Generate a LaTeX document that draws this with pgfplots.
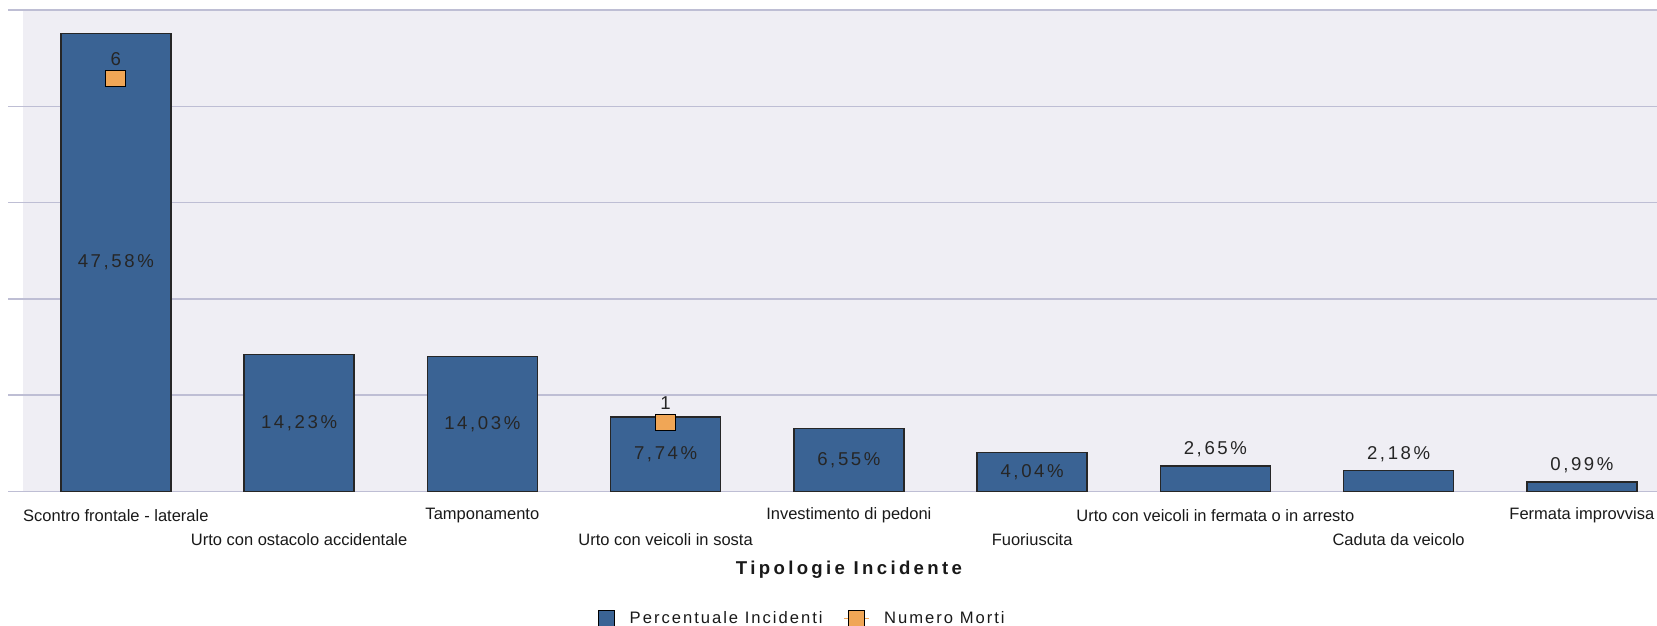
\documentclass[border=0pt]{standalone}
\usepackage{pgfplots}
\pgfplotsset{compat=1.18}
\usepackage{fontspec}
\setmainfont{Liberation Sans}
\newfontfamily\lsfont[LetterSpace=14]{Liberation Sans}
\newfontfamily\legfont[LetterSpace=12]{Liberation Sans}
\newfontfamily\titlefont[LetterSpace=18]{Liberation Sans}
\definecolor{barblue}{RGB}{58,99,148}
\definecolor{morti}{RGB}{240,166,86}
\definecolor{bgcol}{RGB}{239,238,244}
\definecolor{gridcol}{RGB}{190,190,212}
\pgfplotsset{/pgf/number format/assume math mode=true}
\begin{document}
\begin{tikzpicture}
\begin{axis}[
  name=ax,
  scale only axis,
  width=816.85pt, height=240.75pt,
  xmin=-0.505, xmax=8.41,
  ymin=0, ymax=50,
  ytick={0,10,20,30,40,50},
  yticklabels={},
  ymajorgrids,
  grid style={gridcol, line width=0.75pt},
  axis line style={draw=none},
  tick align=outside,
  ytick pos=left,
  major tick length=7.5pt,
  ytick style={gridcol, line width=0.75pt},
  xtick={0,1,2,3,4,5,6,7,8},
  xtick style={draw=none},
  xticklabels={Scontro frontale - laterale, Urto con ostacolo accidentale, Tamponamento, Urto con veicoli in sosta, Investimento di pedoni, Fuoriuscita, Urto con veicoli in fermata o in arresto, Caduta da veicolo, Fermata improvvisa},
  xticklabel style={font=\fontsize{8.25}{10}\selectfont, text=black!90, anchor=center, yshift={-4.4pt-mod(\ticknum,2)*12.2pt}},
  axis background/.style={fill=bgcol},
  xlabel={\titlefont\bfseries Tipologie Incidente},
  xlabel style={at={(axis description cs:0.5054,0)}, anchor=center, yshift=-39pt, font=\fontsize{9.3}{11}\selectfont, text=black!90},
  legend columns=2,
  legend style={draw=none, fill=none, at={(0.4775,-0.2642)}, anchor=center,
    font=\fontsize{8.3}{10}\selectfont\legfont, text=black!90,
    /tikz/every odd column/.append style={column sep=5.2pt},
    /tikz/every even column/.append style={column sep=8.5pt}},
]
\addplot[ybar, bar shift=0pt, bar width=0.6, fill=barblue, draw=black!85, line width=0.7pt,
  legend image code/.code={\draw[fill=barblue,draw=black,line width=0.6pt] (0pt,-4pt) rectangle (8pt,4pt);},
  nodes near coords={\lsfont\pgfmathprintnumber[fixed,fixed zerofill,precision=2,use comma]{\pgfplotspointmeta}\%},
  visualization depends on={y \as \rawy},
  every node near coord/.append style={font=\fontsize{9.3}{11}\selectfont, text=black!85, anchor=center, shift={(axis direction cs:0,-\rawy/2)}},
] coordinates {(0,47.58) (1,14.23) (2,14.03) (3,7.74) (4,6.55) (5,4.04)};
\addlegendentry{Percentuale Incidenti}
\addplot[ybar, bar shift=0pt, bar width=0.6, fill=barblue, draw=black!85, line width=0.7pt, forget plot,
  nodes near coords={\lsfont\pgfmathprintnumber[fixed,fixed zerofill,precision=2,use comma]{\pgfplotspointmeta}\%},
  every node near coord/.append style={font=\fontsize{9.3}{11}\selectfont, text=black!85, anchor=center, yshift=8.3pt},
] coordinates {(6,2.65) (7,2.18) (8,0.99)};
\addlegendimage{legend image code/.code={\draw[morti, line width=0.6pt] (0pt,0pt) -- (12.5pt,0pt); \draw[fill=morti, draw=black, line width=0.6pt] (2.25pt,-4pt) rectangle (10.25pt,4pt);}}
\addlegendentry{Numero Morti}
\end{axis}
\begin{axis}[
  scale only axis,
  width=816.85pt, height=240.75pt,
  xmin=-0.505, xmax=8.41,
  ymin=0, ymax=7,
  hide axis,
]
\addplot[only marks, mark=square*, mark size=4pt,
  mark options={fill=morti, draw=black, line width=0.6pt, xscale=1.25},
  nodes near coords,
  every node near coord/.append style={font=\fontsize{9.3}{11}\selectfont\lsfont, text=black!85, anchor=center, yshift=10pt},
] coordinates {(0,6) (3,1)};
\end{axis}
\pgfresetboundingbox
\path[use as bounding box] ([xshift=-11.65pt,yshift=-67.15pt]ax.south west) rectangle ([yshift=5pt]ax.north east);
\end{tikzpicture}
\end{document}
